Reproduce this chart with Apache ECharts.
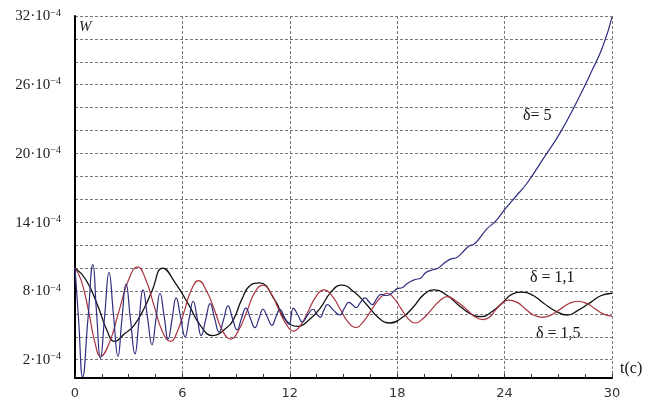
<!DOCTYPE html>
<html>
<head>
<meta charset="utf-8">
<script src="https://cdn.jsdelivr.net/npm/echarts@6/dist/echarts.min.js"></script>
<style>
html,body{margin:0;padding:0;background:#fff;}
#chart{width:646px;height:402px;}
</style>
</head>
<body>
<div id="chart"></div>
<script>
// x-axis ticks (t, c) and y-axis tick labels / grid values (W, ×10^-4)
const xTicks = [0, 6, 12, 18, 24, 30];
const yLabelValues = [2, 8, 14, 20, 26, 32];
const yGridValues = [2, 4, 6, 8, 10, 12, 14, 16, 18, 20, 22, 24, 26, 28, 30, 32];

// δ = 1,1 (black): [t, W·10^4]
const dataD11 = [
  [0, 10.0], [0.6, 9.0], [1.25, 6.8], [1.8, 4.5], [2.2, 3.6], [2.8, 4.3], [3.3, 5.0], [3.9, 6.6], [4.3, 8.0], [4.9, 10.0],
  [5.6, 8.7], [6.35, 6.8], [7.0, 5.0], [7.7, 4.1], [8.4, 4.7], [8.85, 5.5], [9.3, 7.2], [9.8, 8.5], [10.3, 8.7],
  [11.2, 7.1], [11.7, 5.6], [12.45, 4.9], [13.1, 5.5], [13.7, 6.5], [14.3, 7.9], [14.9, 8.5], [15.6, 7.9], [16.3, 6.8],
  [17.0, 5.6], [17.6, 5.2], [18.3, 5.7], [18.9, 6.6], [19.5, 7.7], [20.1, 8.1], [20.8, 7.6], [21.4, 6.8], [22.1, 6.0],
  [22.7, 5.75], [23.3, 6.2], [23.9, 7.0], [24.4, 7.7], [25.0, 7.9], [25.6, 7.6], [26.2, 6.9], [26.9, 6.2], [27.5, 5.9],
  [28.1, 6.3], [28.8, 7.0], [29.4, 7.6], [30, 7.8]
];

// δ = 1,5 (red)
const dataD15 = [
  [0, 10.0], [0.35, 8.9], [0.75, 6.3], [1.1, 3.6], [1.43, 2.3], [1.9, 3.4], [2.45, 6.2], [3.0, 9.0], [3.5, 10.1],
  [3.95, 9.0], [4.4, 6.8], [4.9, 4.4], [5.35, 3.6], [5.7, 4.4], [6.1, 6.2], [6.5, 8.1], [6.9, 8.9], [7.35, 8.0],
  [7.8, 6.3], [8.25, 4.5], [8.7, 3.8], [9.15, 4.6], [9.6, 6.2], [10.05, 7.9], [10.5, 8.5], [10.95, 7.8], [11.35, 6.5],
  [11.8, 5.1], [12.2, 4.5], [12.6, 5.0], [13.05, 6.3], [13.5, 7.6], [13.9, 8.1], [14.35, 7.6], [14.8, 6.45], [15.25, 5.3],
  [15.7, 4.8], [16.1, 5.3], [16.55, 6.3], [17.0, 7.3], [17.45, 7.8], [17.8, 7.4], [18.2, 6.5], [18.6, 5.6], [19.0, 5.2],
  [19.45, 5.6], [19.9, 6.35], [20.35, 7.1], [20.8, 7.5], [21.3, 7.1], [21.8, 6.5], [22.3, 5.8], [22.8, 5.5], [23.15, 5.7],
  [23.5, 6.35], [23.85, 6.9], [24.2, 7.2], [24.7, 7.0], [25.15, 6.45], [25.6, 5.9], [26.1, 5.7], [26.6, 5.9], [27.1, 6.4],
  [27.6, 6.9], [28.1, 7.1], [28.6, 6.9], [29.05, 6.45], [29.5, 6.0], [30, 5.8]
];

// δ = 5 (blue)
const dataD5 = [
  [0, 10.0], [0.2, 5.5], [0.43, 0.5], [0.72, 5.5], [1.0, 10.3], [1.2, 6.2], [1.42, 2.1], [1.66, 5.9], [1.9, 9.6],
  [2.15, 5.9], [2.4, 2.3], [2.62, 5.5], [2.85, 8.6], [3.1, 5.5], [3.35, 2.5], [3.57, 5.3], [3.8, 8.1], [4.05, 5.7],
  [4.3, 3.3], [4.52, 5.5], [4.75, 7.8], [4.98, 5.8], [5.2, 3.8], [5.43, 5.6], [5.65, 7.4], [5.9, 5.7], [6.15, 4.0],
  [6.38, 5.6], [6.6, 7.1], [6.83, 5.6], [7.05, 4.1], [7.3, 5.5], [7.55, 6.9], [7.8, 5.6], [8.05, 4.4], [8.3, 5.5],
  [8.55, 6.7], [8.8, 5.6], [9.05, 4.6], [9.3, 5.6], [9.55, 6.5], [9.8, 5.6], [10.05, 4.8], [10.28, 5.6], [10.5, 6.4],
  [10.75, 5.7], [11.0, 5.0], [11.22, 5.7], [11.45, 6.4], [11.7, 5.7], [11.95, 5.1], [12.2, 6.5], [12.45, 5.9],
  [12.7, 5.3], [13.0, 5.9], [13.3, 6.4], [13.5, 6.0], [13.7, 5.7], [13.9, 6.3], [14.1, 6.8], [14.45, 6.3], [14.8, 5.9],
  [15.05, 6.5], [15.3, 7.0], [15.5, 6.8], [15.7, 6.55], [15.95, 7.0], [16.2, 7.4], [16.4, 7.1], [16.6, 6.8], [16.85, 7.3],
  [17.1, 7.7], [17.4, 7.6], [17.7, 7.8], [18.0, 8.2], [18.3, 8.3], [18.6, 8.7], [19.0, 9.0], [19.3, 9.1], [19.6, 9.6],
  [20.0, 9.85], [20.3, 10.0], [20.6, 10.4], [21.0, 10.8], [21.3, 10.9], [21.6, 11.3], [22.0, 11.9], [22.3, 12.1],
  [22.6, 12.6], [23.0, 13.4], [23.5, 14.1], [24.0, 15.1], [24.6, 16.2], [25.25, 17.4], [26.1, 19.4], [27.1, 21.8],
  [28.0, 24.4], [28.9, 27.3], [29.5, 29.4], [30, 31.9]
];

const chart = echarts.init(document.getElementById('chart'), null, {renderer: 'canvas'});

const serif = '"Liberation Serif", "DejaVu Serif", serif';
const gridLine = {show: true, lineStyle: {color: '#777', type: [3, 2], width: 1}};

chart.setOption({
  animation: false,
  backgroundColor: '#fff',
  grid: {left: 75, right: 34, top: 16, bottom: 24, containLabel: false},
  xAxis: {
    type: 'value', min: 0, max: 30, interval: 6,
    axisLine: {show: true, onZero: false, lineStyle: {color: '#000', width: 2}},
    axisTick: {show: true, inside: true, length: 4, lineStyle: {color: '#333'}},
    minorTick: {show: true, splitNumber: 4, length: 4, lineStyle: {color: '#333'}},
    axisLabel: {
      color: '#333', fontFamily: '"DejaVu Sans", sans-serif', fontSize: 13, margin: 9,
      formatter: v => (xTicks.indexOf(Math.round(v)) >= 0 ? String(Math.round(v)) : '')
    },
    splitLine: gridLine
  },
  yAxis: {
    type: 'value', min: 0.4, max: 32,
    axisLine: {show: true, onZero: false, lineStyle: {color: '#000', width: 2}},
    axisTick: {show: false, customValues: yGridValues},
    axisLabel: {
      margin: 14,
      customValues: yLabelValues,
      formatter: v => '{a|' + Math.round(v) + '·10}{s|−4}',
      rich: {
        a: {fontFamily: serif, fontSize: 15, color: '#222', verticalAlign: 'bottom', lineHeight: 16},
        s: {fontFamily: serif, fontSize: 10, color: '#222', verticalAlign: 'top', lineHeight: 16, padding: [0, 0, 8, 0]}
      }
    },
    splitLine: gridLine
  },
  series: [
    {name: 'δ = 1,1', type: 'line', data: dataD11, smooth: true, showSymbol: false,
     lineStyle: {color: '#111', width: 1.3}, z: 3},
    {name: 'δ = 1,5', type: 'line', data: dataD15, smooth: true, showSymbol: false,
     lineStyle: {color: '#a8323e', width: 1.2}, z: 4},
    {name: 'δ = 5', type: 'line', data: dataD5, smooth: true, showSymbol: false,
     lineStyle: {color: '#2e2e80', width: 1.2}, z: 5}
  ],
  graphic: [
    {type: 'text', left: 79, top: 20, style: {text: 'W', font: 'italic 15px ' + serif, fill: '#222'}},
    {type: 'text', left: 523, top: 108, style: {text: 'δ= 5', font: '16px ' + serif, fill: '#111'}},
    {type: 'text', left: 530, top: 270, style: {text: 'δ = 1,1', font: '16px ' + serif, fill: '#111'}},
    {type: 'text', left: 536, top: 326, style: {text: 'δ = 1,5', font: '16px ' + serif, fill: '#111'}},
    {type: 'text', left: 620, top: 361, style: {text: 't(c)', font: '16px ' + serif, fill: '#111'}}
  ]
});
</script>
</body>
</html>
